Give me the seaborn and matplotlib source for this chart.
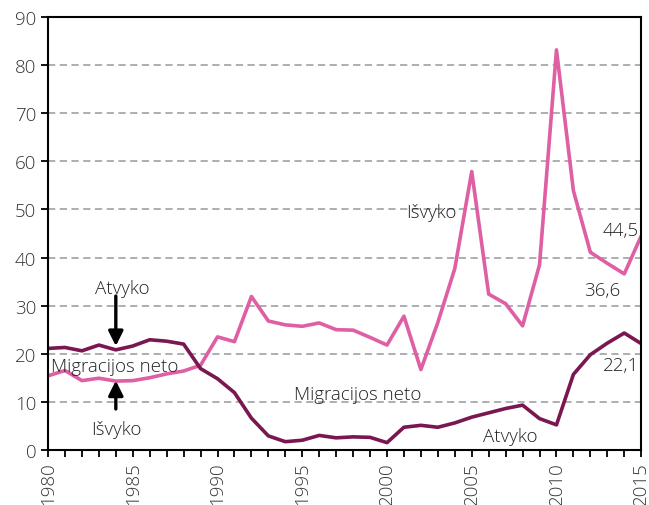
import numpy as np
import pandas as pd
import seaborn as sns
import matplotlib.pyplot as plt
from matplotlib.ticker import MultipleLocator

years = list(range(1980, 2016))
isvyko = [15.4, 16.5, 14.4, 14.9, 14.3, 14.4, 15.0, 15.8, 16.4, 17.6,
          23.5, 22.5, 31.9, 26.8, 26.0, 25.7, 26.4, 25.0, 24.9, 23.4,
          21.8, 27.8, 16.7, 26.5, 37.7, 57.9, 32.4, 30.4, 25.8, 38.5,
          83.2, 53.9, 41.1, 38.8, 36.6, 44.5]
atvyko = [21.1, 21.3, 20.6, 21.8, 20.8, 21.6, 22.9, 22.6, 22.0, 16.9,
          14.8, 11.9, 6.6, 2.9, 1.7, 2.0, 3.0, 2.5, 2.7, 2.6,
          1.5, 4.7, 5.1, 4.7, 5.6, 6.8, 7.7, 8.6, 9.3, 6.5,
          5.2, 15.7, 19.8, 22.2, 24.3, 22.1]

df = pd.DataFrame({"year": years, "Išvyko": isvyko, "Atvyko": atvyko})

sns.set_style("white")
plt.rcParams['font.family'] = ['Open Sans', 'DejaVu Sans']
plt.rcParams['font.weight'] = 'light'

fig = plt.figure(figsize=(6.49, 5.06), dpi=100)
ax = fig.add_axes([0.074, 0.109, 0.914, 0.855])

pink = "#DE5FA3"
dark = "#7A1650"
sns.lineplot(data=df, x="year", y="Išvyko", color=pink, lw=2.6, ax=ax)
sns.lineplot(data=df, x="year", y="Atvyko", color=dark, lw=2.6, ax=ax)

ax.set_xlim(1980, 2015)
ax.set_ylim(0, 90)
ax.set_xlabel("")
ax.set_ylabel("")
ax.xaxis.set_major_locator(MultipleLocator(5))
ax.xaxis.set_minor_locator(MultipleLocator(1))
ax.yaxis.set_major_locator(MultipleLocator(10))
for v in range(10, 90, 10):
    ax.axhline(v, color="#A6A9AB", lw=1.3, ls=(0, (4, 2.5)), zorder=0)

for s in ax.spines.values():
    s.set_color("black")
    s.set_linewidth(1.5)
ax.tick_params(axis="both", which="major", direction="out", length=5, width=1.3,
               color="black", labelsize=13.5, labelcolor="#333333", bottom=True, left=True)
ax.tick_params(axis="x", which="minor", direction="out", length=5, width=1.3,
               color="black", bottom=True)
plt.setp(ax.get_xticklabels(), rotation=90)

tc = "#222222"
fs = 13.5
arrow = dict(arrowstyle="-|>", color="black", lw=2.4, mutation_scale=22,
             shrinkA=0, shrinkB=0)
ax.text(1984.4, 33.7, "Atvyko", ha="center", va="center", fontsize=fs, color=tc)
ax.annotate("", xy=(1984, 21.6), xytext=(1984, 32), arrowprops=arrow)
ax.text(1983.95, 17.5, "Migracijos neto", ha="center", va="center", fontsize=fs, color=tc)
ax.annotate("", xy=(1984, 14.4), xytext=(1984, 8.5), arrowprops=arrow)
ax.text(1984, 4.3, "Išvyko", ha="center", va="center", fontsize=fs, color=tc)
ax.text(2002.6, 49.5, "Išvyko", ha="center", va="center", fontsize=fs, color=tc)
ax.text(1998.3, 11.6, "Migracijos neto", ha="center", va="center", fontsize=fs, color=tc)
ax.text(2007.3, 2.9, "Atvyko", ha="center", va="center", fontsize=fs, color=tc)
ax.text(2013.8, 45.7, "44,5", ha="center", va="center", fontsize=fs, color=tc)
ax.text(2012.7, 33.3, "36,6", ha="center", va="center", fontsize=fs, color=tc)
ax.text(2013.8, 17.7, "22,1", ha="center", va="center", fontsize=fs, color=tc)

fig.savefig("out.png", dpi=100)
